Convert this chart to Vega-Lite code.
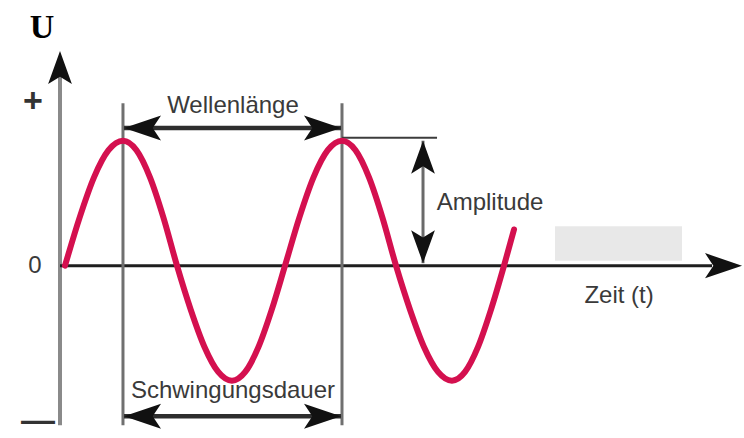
{
  "$schema": "https://vega.github.io/schema/vega-lite/v6.json",
  "width": 744,
  "height": 438,
  "autosize": {"type": "fit", "contains": "padding"},
  "padding": 0,
  "background": "white",
  "config": {"view": {"stroke": null}},
  "datasets": {
    "wave": [
      {"t": 0.091, "U": 0}, {"t": 0.355, "U": 0.383}, {"t": 0.618, "U": 0.707}, {"t": 0.882, "U": 0.924},
      {"t": 1.145, "U": 1.0}, {"t": 1.391, "U": 0.924}, {"t": 1.636, "U": 0.707}, {"t": 1.882, "U": 0.383},
      {"t": 2.127, "U": 0}, {"t": 2.377, "U": -0.352}, {"t": 2.627, "U": -0.65}, {"t": 2.877, "U": -0.85},
      {"t": 3.127, "U": -0.92}, {"t": 3.368, "U": -0.85}, {"t": 3.609, "U": -0.65}, {"t": 3.85, "U": -0.352},
      {"t": 4.091, "U": 0}, {"t": 4.35, "U": 0.383}, {"t": 4.609, "U": 0.707}, {"t": 4.868, "U": 0.924},
      {"t": 5.127, "U": 1.0}, {"t": 5.373, "U": 0.924}, {"t": 5.618, "U": 0.707}, {"t": 5.864, "U": 0.383},
      {"t": 6.109, "U": 0}, {"t": 6.364, "U": -0.352}, {"t": 6.618, "U": -0.65}, {"t": 6.873, "U": -0.85},
      {"t": 7.127, "U": -0.92}, {"t": 7.364, "U": -0.85}, {"t": 7.6, "U": -0.65}, {"t": 7.836, "U": -0.352},
      {"t": 8.073, "U": 0}, {"t": 8.255, "U": 0.29}
    ],
    "segments": [
      {"kind": "uaxis", "t": 0, "t2": 0, "U": -1.276, "U2": 1.535},
      {"kind": "xaxis", "t": 0, "t2": 11.855, "U": 0, "U2": 0},
      {"kind": "guide", "t": 1.145, "t2": 1.145, "U": 1.299, "U2": -1.276},
      {"kind": "guide", "t": 5.127, "t2": 5.127, "U": 1.299, "U2": -1.276},
      {"kind": "top", "t": 5.127, "t2": 6.855, "U": 1.024, "U2": 1.024},
      {"kind": "shaft", "t": 1.164, "t2": 5.109, "U": 1.102, "U2": 1.102},
      {"kind": "shaft", "t": 1.164, "t2": 5.109, "U": -1.205, "U2": -1.205},
      {"kind": "ashaft", "t": 6.6, "t2": 6.6, "U": 1.0, "U2": 0.02}
    ],
    "heads": [
      {"dir": "up", "t": 0, "U": 1.717},
      {"dir": "up", "t": 6.6, "U": 1.0},
      {"dir": "down", "t": 6.6, "U": 0.02},
      {"dir": "left", "t": 1.164, "U": 1.102},
      {"dir": "left", "t": 1.164, "U": -1.205},
      {"dir": "right", "t": 5.109, "U": 1.102},
      {"dir": "right", "t": 5.109, "U": -1.205},
      {"dir": "right", "t": 12.4, "U": 0}
    ],
    "labels": [
      {"kind": "word", "t": 3.145, "U": 1.28, "label": "Wellenlänge"},
      {"kind": "word", "t": 7.818, "U": 0.5, "label": "Amplitude"},
      {"kind": "word", "t": 10.164, "U": -0.24, "label": "Zeit (t)"},
      {"kind": "word", "t": 3.145, "U": -1.0, "label": "Schwingungsdauer"},
      {"kind": "sign", "t": -0.491, "U": 1.307, "label": "+"},
      {"kind": "zero", "t": -0.4545, "U": 0, "label": "0"},
      {"kind": "sign", "t": -0.4, "U": -1.244, "label": "—"},
      {"kind": "title", "t": -0.327, "U": 1.9, "label": "U"}
    ],
    "boxes": [
      {"t": 9.0, "t2": 11.309, "U": 0.315, "U2": 0.039}
    ]
  },
  "encoding": {
    "x": {"field": "t", "type": "quantitative", "axis": null, "scale": {"domain": [-1.0909, 12.436], "nice": false, "zero": false}},
    "y": {"field": "U", "type": "quantitative", "axis": null, "scale": {"domain": [-1.3228, 2.126], "nice": false, "zero": false}}
  },
  "layer": [
    {
      "data": {"name": "boxes"},
      "mark": {"type": "rect", "color": "#e8e8e8"},
      "encoding": {"x2": {"field": "t2"}, "y2": {"field": "U2"}}
    },
    {
      "data": {"name": "segments"},
      "transform": [{"filter": "datum.kind === 'uaxis'"}],
      "mark": {"type": "rule", "color": "#8a8a8a", "strokeWidth": 4},
      "encoding": {"x2": {"field": "t2"}, "y2": {"field": "U2"}}
    },
    {
      "data": {"name": "segments"},
      "transform": [{"filter": "datum.kind === 'xaxis'"}],
      "mark": {"type": "rule", "color": "#1e1e1e", "strokeWidth": 3},
      "encoding": {"x2": {"field": "t2"}, "y2": {"field": "U2"}}
    },
    {
      "data": {"name": "segments"},
      "transform": [{"filter": "datum.kind === 'guide'"}],
      "mark": {"type": "rule", "color": "#707070", "strokeWidth": 3},
      "encoding": {"x2": {"field": "t2"}, "y2": {"field": "U2"}}
    },
    {
      "data": {"name": "segments"},
      "transform": [{"filter": "datum.kind === 'top'"}],
      "mark": {"type": "rule", "color": "#3c3c3c", "strokeWidth": 2},
      "encoding": {"x2": {"field": "t2"}, "y2": {"field": "U2"}}
    },
    {
      "data": {"name": "segments"},
      "transform": [{"filter": "datum.kind === 'shaft'"}],
      "mark": {"type": "rule", "color": "#2e2e2e", "strokeWidth": 4.5},
      "encoding": {"x2": {"field": "t2"}, "y2": {"field": "U2"}}
    },
    {
      "data": {"name": "segments"},
      "transform": [{"filter": "datum.kind === 'ashaft'"}],
      "mark": {"type": "rule", "color": "#6a6a6a", "strokeWidth": 3},
      "encoding": {"x2": {"field": "t2"}, "y2": {"field": "U2"}}
    },
    {
      "data": {"name": "wave"},
      "mark": {"type": "line", "color": "#d4104f", "strokeWidth": 6, "interpolate": "monotone", "strokeCap": "round"},
      "encoding": {}
    },
    {
      "data": {"name": "heads"},
      "transform": [{"filter": "datum.dir === 'up'"}],
      "mark": {"type": "point", "filled": true, "color": "#111111", "opacity": 1, "size": 1089, "shape": "M0,0 L-0.72,2 L0,1.55 L0.72,2 Z"}
    },
    {
      "data": {"name": "heads"},
      "transform": [{"filter": "datum.dir === 'down'"}],
      "mark": {"type": "point", "filled": true, "color": "#111111", "opacity": 1, "size": 1089, "shape": "M0,0 L-0.72,-2 L0,-1.55 L0.72,-2 Z"}
    },
    {
      "data": {"name": "heads"},
      "transform": [{"filter": "datum.dir === 'left'"}],
      "mark": {"type": "point", "filled": true, "color": "#111111", "opacity": 1, "size": 1369, "shape": "M0,0 L2,-0.68 L1.55,0 L2,0.68 Z"}
    },
    {
      "data": {"name": "heads"},
      "transform": [{"filter": "datum.dir === 'right'"}],
      "mark": {"type": "point", "filled": true, "color": "#111111", "opacity": 1, "size": 1369, "shape": "M0,0 L-2,-0.68 L-1.55,0 L-2,0.68 Z"}
    },
    {
      "data": {"name": "labels"},
      "transform": [{"filter": "datum.kind === 'word'"}],
      "mark": {"type": "text", "font": "Liberation Sans", "fontSize": 24, "color": "#3a3a3a", "baseline": "middle", "align": "center"},
      "encoding": {"text": {"field": "label"}}
    },
    {
      "data": {"name": "labels"},
      "transform": [{"filter": "datum.kind === 'sign'"}],
      "mark": {"type": "text", "font": "Liberation Sans", "fontSize": 34, "fontWeight": "bold", "color": "#333333", "baseline": "middle", "align": "center"},
      "encoding": {"text": {"field": "label"}}
    },
    {
      "data": {"name": "labels"},
      "transform": [{"filter": "datum.kind === 'zero'"}],
      "mark": {"type": "text", "font": "Liberation Sans", "fontSize": 24, "color": "#3a3a3a", "baseline": "middle", "align": "center"},
      "encoding": {"text": {"field": "label"}}
    },
    {
      "data": {"name": "labels"},
      "transform": [{"filter": "datum.kind === 'title'"}],
      "mark": {"type": "text", "font": "Liberation Serif", "fontSize": 34, "fontWeight": "bold", "color": "#000000", "baseline": "middle", "align": "center"},
      "encoding": {"text": {"field": "label"}}
    }
  ]
}
